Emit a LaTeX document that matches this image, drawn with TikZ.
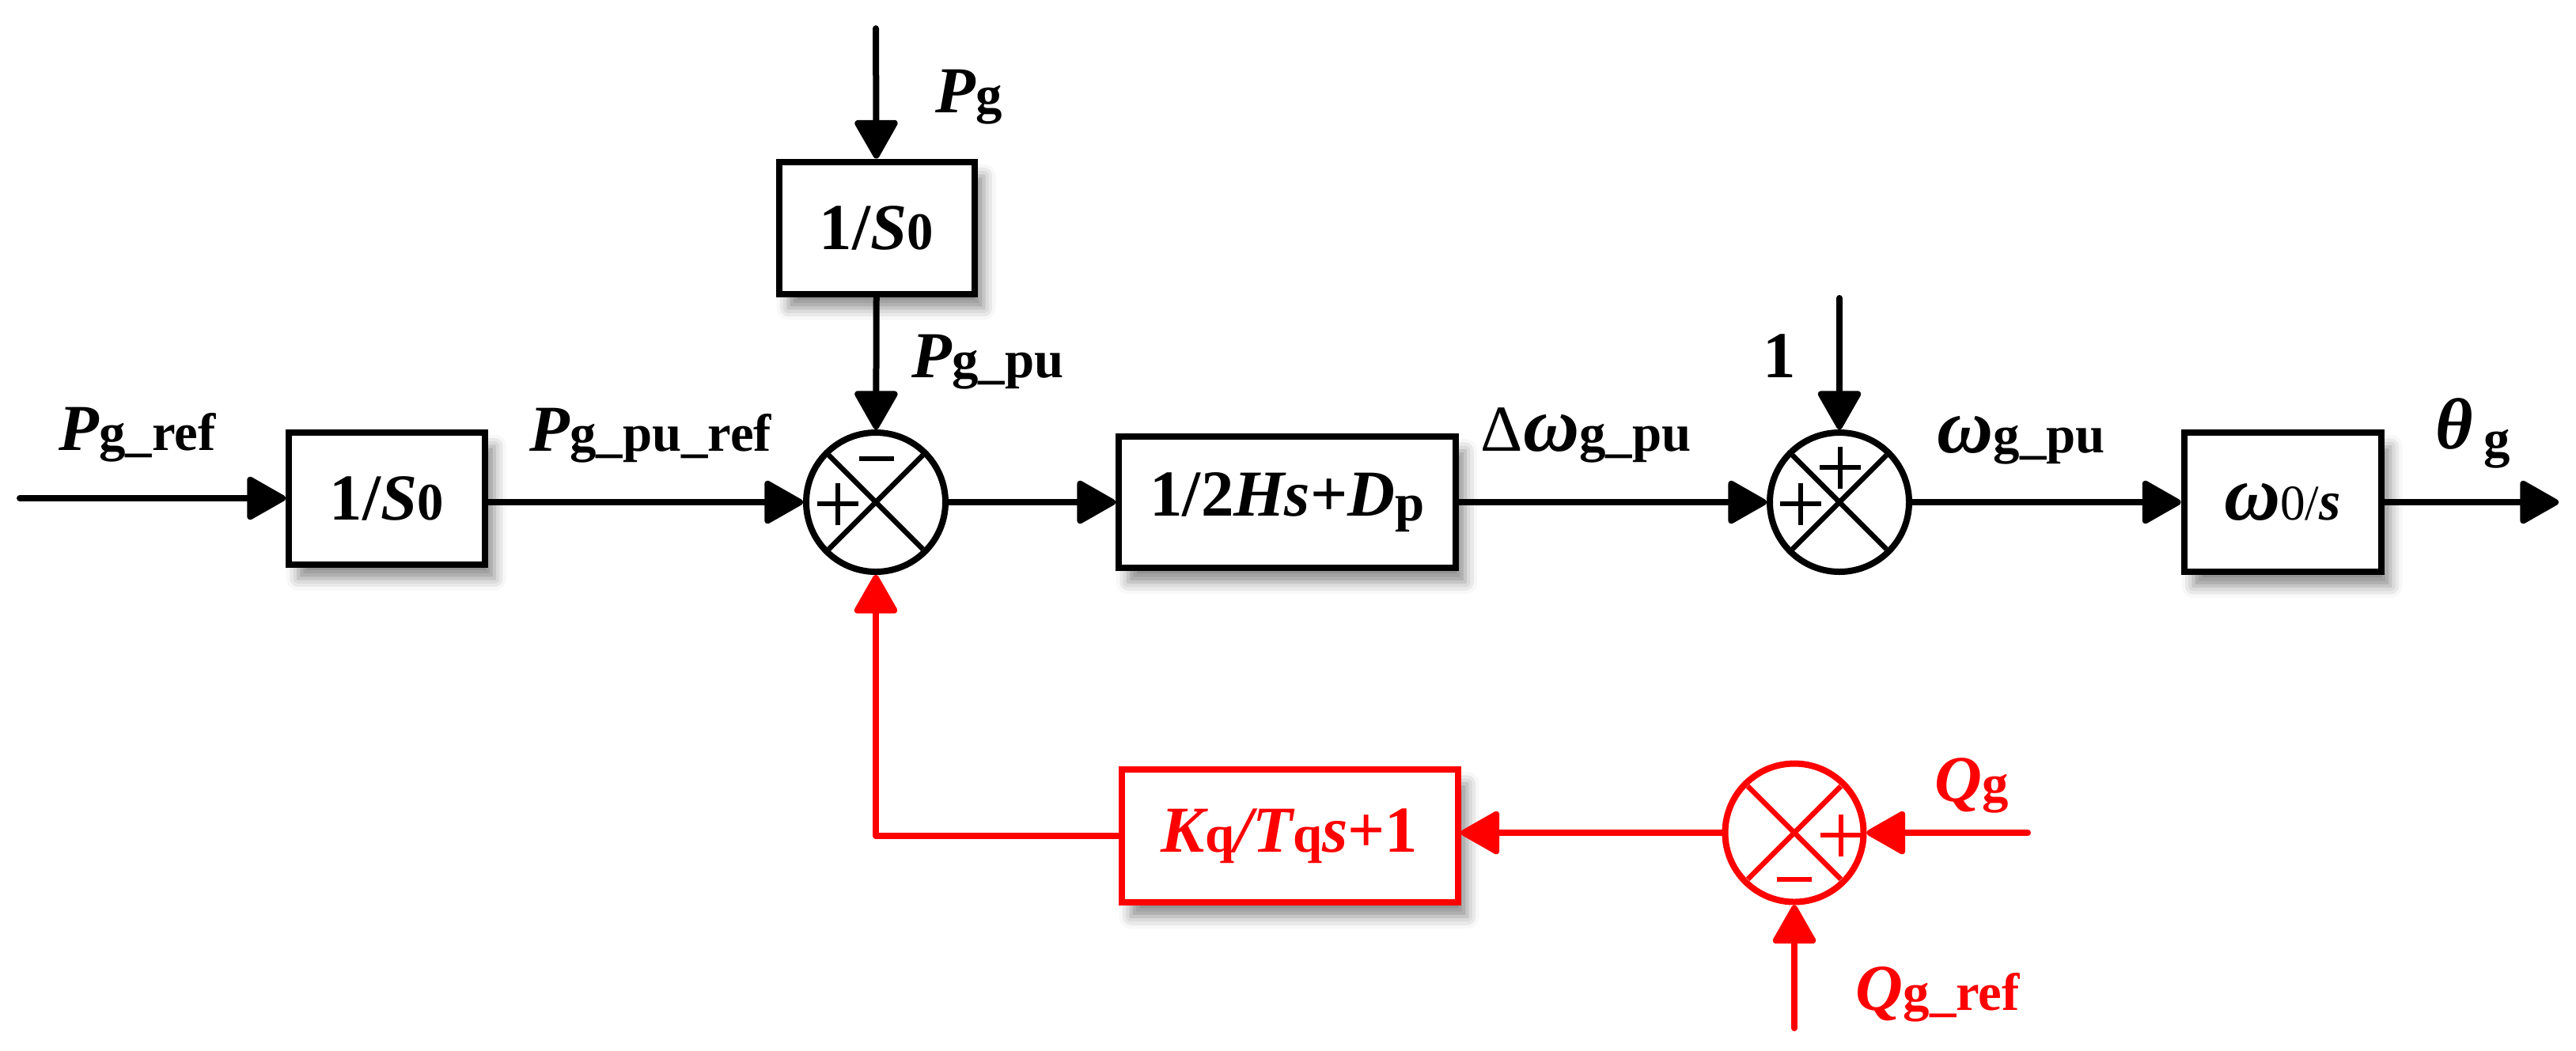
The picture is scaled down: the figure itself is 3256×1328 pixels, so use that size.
\documentclass[tikz,border=0pt]{standalone}
\usepackage{fontspec}
\setmainfont{Liberation Serif}
\usetikzlibrary{arrows.meta,shadows.blur}
\newcommand\bi[1]{{\bfseries\itshape #1}}
\newcommand\smb[1]{{\fontsize{19}{22}\selectfont\bfseries #1}}
\newcommand\bigw{{\fontsize{28}{30}\selectfont\bfseries\itshape ω}}
\begin{document}
\begin{tikzpicture}[x=0.1mm,y=-0.1mm,
  font=\fontsize{23.6}{28}\selectfont\bfseries,
  wire/.style={line width=0.8mm, line cap=round, line join=round},
  arr/.style={wire, -{Triangle[length=5.3mm,width=5.8mm,round]}},
  blk/.style={draw, line width=0.8mm, fill=white, inner sep=0pt,
    blur shadow={shadow xshift=1.2mm, shadow yshift=-1.8mm, shadow blur radius=1.5mm, shadow opacity=45}},
  sumj/.style={draw, circle, line width=0.8mm, fill=white, minimum size=17.6mm, inner sep=0pt},
  lbl/.style={inner sep=0pt, anchor=base west},
  sgn/.style={line width=0.65mm},
]
\useasboundingbox (0,0) rectangle (3256,1328);

% blocks
\node[blk, minimum width=24.8mm, minimum height=16.7mm] (b1) at (489,630) {1/\bi{S}\smb{0}};
\node[blk, minimum width=24.7mm, minimum height=16.7mm] (b0) at (1108,288) {1/\bi{S}\smb{0}};
\node[blk, minimum width=42.6mm, minimum height=16.6mm] (b2) at (1627,635) {1/2\bi{Hs}+\bi{D}\raisebox{-0.6mm}{\smb{p}}};
\node[blk, minimum width=24.9mm, minimum height=17.6mm] (b3) at (2885,635) {\bigw{\fontsize{18}{20}\selectfont\mdseries 0/}{\fontsize{20}{22}\selectfont\bfseries\itshape s}};
\node[blk, draw=red, text=red, minimum width=42.5mm, minimum height=16.8mm] (rb) at (1630,1057) {\bi{K}\smb{q}\bi{/T}\smb{q}\bi{s}+1};

% summing junctions
\node[sumj] (s1) at (1107,635) {};
\node[sumj] (s2) at (2325,635) {};
\node[sumj, draw=red, minimum size=17.5mm] (rs) at (2268,1053) {};

% crosses
\draw[sgn] (s1.center) +(45:8.4mm) -- +(225:8.4mm) +(135:8.4mm) -- +(315:8.4mm);
\draw[sgn] (s2.center) +(45:8.4mm) -- +(225:8.4mm) +(135:8.4mm) -- +(315:8.4mm);
\draw[sgn, red] (rs.center) +(45:8.3mm) -- +(225:8.3mm) +(135:8.3mm) -- +(315:8.3mm);

% signs
\draw[sgn] (1059,637) +(-2.6mm,0mm) -- +(2.6mm,0mm) +(0mm,-2.65mm) -- +(0mm,2.65mm);
\draw[sgn] (1108,580) +(-2.2mm,0mm) -- +(2.2mm,0mm);
\draw[sgn] (2326,591) +(-2.6mm,0mm) -- +(2.6mm,0mm) +(0mm,-2.65mm) -- +(0mm,2.65mm);
\draw[sgn] (2276,637) +(-2.6mm,0mm) -- +(2.6mm,0mm) +(0mm,-2.65mm) -- +(0mm,2.65mm);
\draw[sgn, red] (2327,1056) +(-2.6mm,0mm) -- +(2.6mm,0mm) +(0mm,-2.65mm) -- +(0mm,2.65mm);
\draw[sgn, red] (2268,1112) +(-2.2mm,0mm) -- +(2.2mm,0mm);

% free ends
\coordinate (in1) at (25,630);
\coordinate (pg) at (1107,36);
\coordinate (one) at (2325,377);
\coordinate (outc) at (3234,635);
\coordinate (qg) at (2563,1053);
\coordinate (qref) at (2268,1300);
\coordinate (rc) at (1107,1057);

% black connectors
\draw[arr] (in1) -- (b1);
\draw[arr] (b1.east |- s1) -- (s1);
\draw[arr] (pg) -- (b0);
\draw[arr] (b0) -- (s1);
\draw[arr] (s1) -- (b2);
\draw[arr] (b2) -- (s2);
\draw[arr] (one) -- (s2);
\draw[arr] (s2) -- (b3);
\draw[arr] (b3) -- (outc);

% red connectors
\draw[arr, red] (qg) -- (rs);
\draw[arr, red] (qref) -- (rs);
\draw[arr, red] (rs.west) -- (rs.west -| rb.east);
\draw[arr, red] (rb.west) -- (rc) -- (s1.south);

% labels
\node[lbl] (lPref) at (74,569) {\bi{P}\smb{g\_ref}};
\node[lbl] (lPpuref) at (669,570) {\bi{P}\smb{g\_pu\_ref}};
\node[lbl] (lPg) at (1182,142) {\bi{P}\smb{g}};
\node[lbl] (lPpu) at (1152,477) {\bi{P}\smb{g\_pu}};
\node[lbl] (lDw) at (1871,570) {{\mdseries Δ}\bigw\smb{g\_pu}};
\node[lbl] (l1) at (2228,477) {1};
\node[lbl] (lw) at (2448,572) {\bigw\smb{g\_pu}};
\node[lbl] (lth) at (3078,567) {{\fontsize{26}{28}\selectfont\bfseries\itshape θ}\,\raisebox{-1mm}{\smb{g}}};
\node[lbl, text=red] (lQg) at (2445,1013) {\bi{Q}\smb{g}};
\node[lbl, text=red] (lQref) at (2345,1277) {\bi{Q}\smb{g\_ref}};
\end{tikzpicture}
\end{document}
